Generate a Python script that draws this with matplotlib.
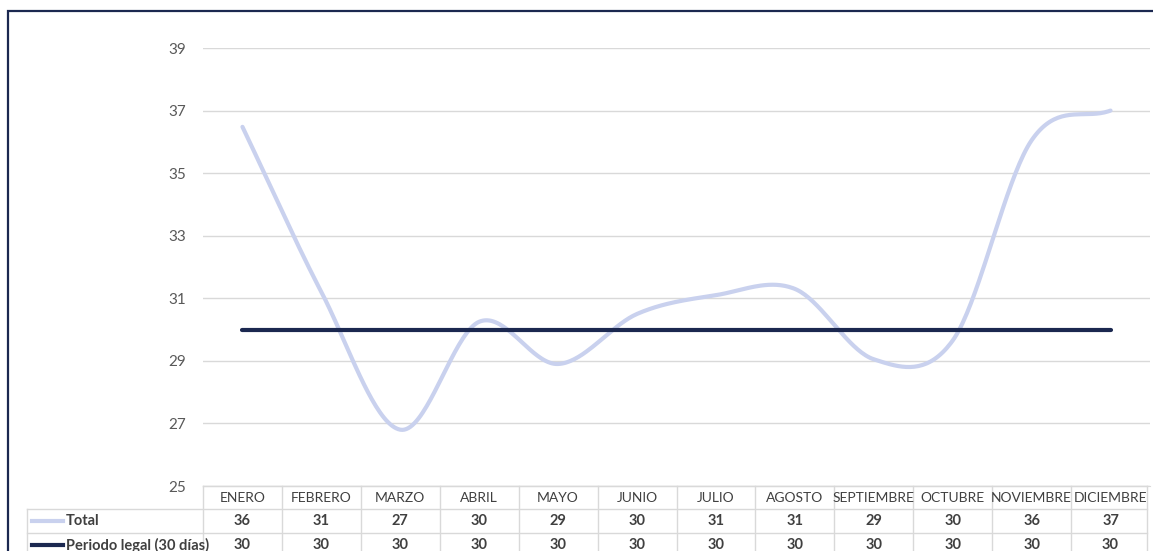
import numpy as np
import matplotlib.pyplot as plt
from matplotlib.patches import Rectangle

plt.rcParams['font.family'] = ['Lato', 'DejaVu Sans']

meses = ['ENERO', 'FEBRERO', 'MARZO', 'ABRIL', 'MAYO', 'JUNIO', 'JULIO',
         'AGOSTO', 'SEPTIEMBRE', 'OCTUBRE', 'NOVIEMBRE', 'DICIEMBRE']
total = [36.48, 31.2, 26.8, 30.25, 28.9, 30.5, 31.1, 31.3, 29.05, 29.65, 36.05, 37.0]
periodo_legal = [30] * 12
series_names = ['Total', 'Periodo legal (30 días)']

C_TOTAL = '#C9D1EE'
C_LEGAL = '#1B2850'
C_TEXT = '#404040'
C_GRID = '#D9D9D9'


def smooth(x, y, n=40):
    # catmull-rom style bezier, like excel's "smoothed line"
    x = np.asarray(x, float)
    y = np.asarray(y, float)
    px, py = [], []
    for i in range(len(x) - 1):
        x0, y0 = x[i], y[i]
        x3, y3 = x[i + 1], y[i + 1]
        if i == 0:
            x1, y1 = x0 + (x3 - x0) / 3, y0 + (y3 - y0) / 3
        else:
            x1, y1 = x0 + (x3 - x[i - 1]) / 6, y0 + (y3 - y[i - 1]) / 6
        if i == len(x) - 2:
            x2, y2 = x3 - (x3 - x0) / 3, y3 - (y3 - y0) / 3
        else:
            x2, y2 = x3 - (x[i + 2] - x0) / 6, y3 - (y[i + 2] - y0) / 6
        t = np.linspace(0, 1, n)
        bx = (1-t)**3*x0 + 3*(1-t)**2*t*x1 + 3*(1-t)*t**2*x2 + t**3*x3
        by = (1-t)**3*y0 + 3*(1-t)**2*t*y1 + 3*(1-t)*t**2*y2 + t**3*y3
        px.extend(bx)
        py.extend(by)
    return np.array(px), np.array(py)


W, H = 1153, 551
fig = plt.figure(figsize=(W / 100, H / 100), dpi=100)
ax = fig.add_axes([203 / W, 1 - 486 / H, (1150 - 203) / W, (486 - 48) / H])

x = np.arange(len(meses))
sx, sy = smooth(x, total)
ax.plot(sx, sy, color=C_TOTAL, lw=3.0, solid_capstyle='round', zorder=3)
ax.plot(x, periodo_legal, color=C_LEGAL, lw=3.0, solid_capstyle='round', zorder=4)

ax.set_xlim(-0.5, len(meses) - 0.5)
ax.set_ylim(25, 39)
ax.set_yticks(np.arange(25, 40, 2))
ax.yaxis.grid(True, color=C_GRID, lw=1)
ax.set_axisbelow(True)
ax.set_xticks([])
for s in ['top', 'right', 'left']:
    ax.spines[s].set_visible(False)
ax.spines['bottom'].set_color(C_GRID)
ax.tick_params(axis='y', length=0, pad=12, labelsize=11, labelcolor='#595959')

# data table under the plot
tr = ax.get_xaxis_transform()
ah = 486 - 48


def af(py):
    return (486 - py) / ah


unit = (1150 - 203) / len(meses)
left_x = -0.5 - (203 - 27) / unit
right_x = len(meses) - 0.5 - 3 / unit

kw = dict(transform=tr, color=C_GRID, lw=1, clip_on=False)
ax.plot([-0.5, right_x], [af(486), af(486)], **kw)
for yy in [509, 533]:
    ax.plot([left_x, right_x], [af(yy), af(yy)], **kw)
for i in range(len(meses) + 1):
    xx = i - 0.5 if i < len(meses) else right_x
    ax.plot([xx, xx], [af(486), af(560)], **kw)
ax.plot([left_x, left_x], [af(509), af(560)], **kw)

for i, m in enumerate(meses):
    ax.text(i, af(497.5), m, transform=tr, ha='center', va='center',
            fontsize=10, color=C_TEXT, clip_on=False)
    ax.text(i, af(521), f'{total[i]:.0f}', transform=tr, ha='center', va='center',
            fontsize=10.5, color=C_TEXT, fontweight='bold', clip_on=False)
    ax.text(i, af(545), f'{periodo_legal[i]:.0f}', transform=tr, ha='center', va='center',
            fontsize=10.5, color=C_TEXT, fontweight='bold', clip_on=False)

for name, col, py in zip(series_names, [C_TOTAL, C_LEGAL], [521, 545]):
    x0 = -0.5 - (203 - 32) / unit
    x1 = -0.5 - (203 - 63) / unit
    ax.plot([x0, x1], [af(py), af(py)], transform=tr, color=col, lw=3.0, clip_on=False)
    ax.text(-0.5 - (203 - 66) / unit, af(py), name, transform=tr, ha='left', va='center',
            fontsize=10.5, color=C_TEXT, fontweight='bold', clip_on=False)

# outer chart border
fig.add_artist(Rectangle((8 / W, -0.1), 1.2, 1 - 11 / H + 0.1, transform=fig.transFigure,
                         fill=False, edgecolor=C_LEGAL, lw=1.6))

fig.savefig('out.png', dpi=100)
